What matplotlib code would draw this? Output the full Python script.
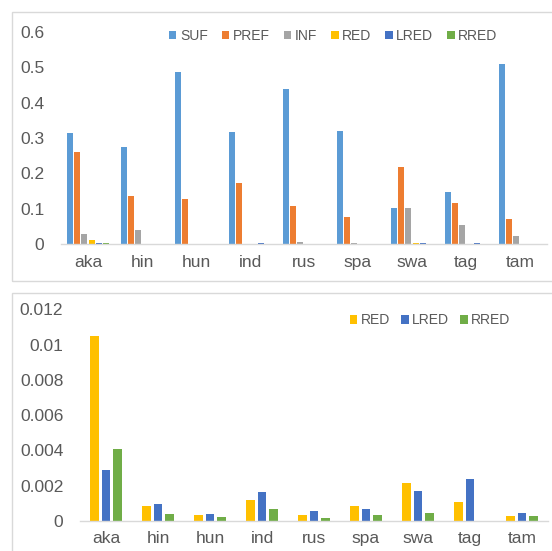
import matplotlib
matplotlib.use("Agg")
import matplotlib.pyplot as plt
from matplotlib.patches import Rectangle
from matplotlib.ticker import FuncFormatter
import numpy as np

plt.rcParams['font.family'] = ['Liberation Sans', 'DejaVu Sans']

categories = ['aka', 'hin', 'hun', 'ind', 'rus', 'spa', 'swa', 'tag', 'tam']
SUF = [0.313, 0.275, 0.486, 0.316, 0.440, 0.320, 0.102, 0.146, 0.509]
PREF = [0.260, 0.137, 0.128, 0.173, 0.107, 0.077, 0.218, 0.117, 0.070]
INF = [0.027, 0.040, 0.0, 0.0, 0.007, 0.002, 0.101, 0.055, 0.0235]
RED = [0.0105, 0.00083, 0.00036, 0.00119, 0.00034, 0.00083, 0.00217, 0.00106, 0.00026]
LRED = [0.00289, 0.00096, 0.00038, 0.00164, 0.00055, 0.00070, 0.00170, 0.00236, 0.00043]
RRED = [0.0041, 0.00038, 0.00023, 0.00066, 0.00017, 0.00034, 0.00043, 0.0, 0.00030]

top_series = [('SUF', SUF, '#5B9BD5'), ('PREF', PREF, '#ED7D31'), ('INF', INF, '#A5A5A5'),
              ('RED', RED, '#FFC000'), ('LRED', LRED, '#4472C4'), ('RRED', RRED, '#70AD47')]
bot_series = top_series[3:]

W, H = 552, 551
fig = plt.figure(figsize=(W / 100, H / 100), dpi=100)

def px_rect(x0, y0, x1, y1):
    return [x0 / W, 1 - y1 / H, (x1 - x0) / W, (y1 - y0) / H]

# panel frames
for (x0, y0, x1, y1) in [(12, 12, 570, 281), (12, 293, 570, 570)]:
    fig.patches.append(Rectangle((x0 / W, 1 - y1 / H), (x1 - x0) / W, (y1 - y0) / H,
                                 transform=fig.transFigure, fill=False,
                                 edgecolor='#D9D9D9', linewidth=1.0, clip_on=False))

TXT = '#595959'
fmt = FuncFormatter(lambda v, p: '0' if abs(v) < 1e-12 else ('%g' % round(v, 6)))

def style(ax, ymax, step, xpad):
    ax.set_xlim(-0.5, len(categories) - 0.5)
    ax.set_ylim(0, ymax)
    ax.set_yticks(np.arange(0, ymax + step / 2, step))
    ax.yaxis.set_major_formatter(fmt)
    ax.set_xticks(range(len(categories)))
    ax.set_xticklabels(categories)
    for s in ['left', 'top', 'right']:
        ax.spines[s].set_visible(False)
    ax.spines['bottom'].set_color('#D9D9D9')
    ax.spines['bottom'].set_linewidth(1.0)
    ax.tick_params(axis='both', length=0, labelsize=12.5, colors=TXT)
    ax.tick_params(axis='y', pad=12)
    ax.tick_params(axis='x', pad=xpad)
    ax.patch.set_alpha(0)

x = np.arange(len(categories))

ax1 = fig.add_axes(px_rect(61, 32, 547, 244))
step1, w1 = 0.133, 0.111
for i, (name, vals, col) in enumerate(top_series):
    ax1.bar(x + (i - 2.5) * step1, vals, width=w1, color=col, label=name, linewidth=0)
style(ax1, 0.6, 0.1, 8)
leg1 = ax1.legend(loc='upper center', bbox_to_anchor=(0.56, 1.075), ncol=6, frameon=False,
                  fontsize=10, handlelength=0.55, handleheight=0.55, handletextpad=0.25,
                  columnspacing=1.0, labelcolor=TXT)

ax2 = fig.add_axes(px_rect(80, 309.3, 548, 521))
step2, w2 = 0.221, 0.169
for i, (name, vals, col) in enumerate(bot_series):
    ax2.bar(x + (i - 1) * step2, vals, width=w2, color=col, label=name, linewidth=0)
style(ax2, 0.012, 0.002, 7)
leg2 = ax2.legend(loc='upper center', bbox_to_anchor=(0.748, 1.04), ncol=3, frameon=False,
                  fontsize=10, handlelength=0.55, handleheight=0.55, handletextpad=0.25,
                  columnspacing=0.8, labelcolor=TXT)

fig.savefig('out.png', dpi=100)
